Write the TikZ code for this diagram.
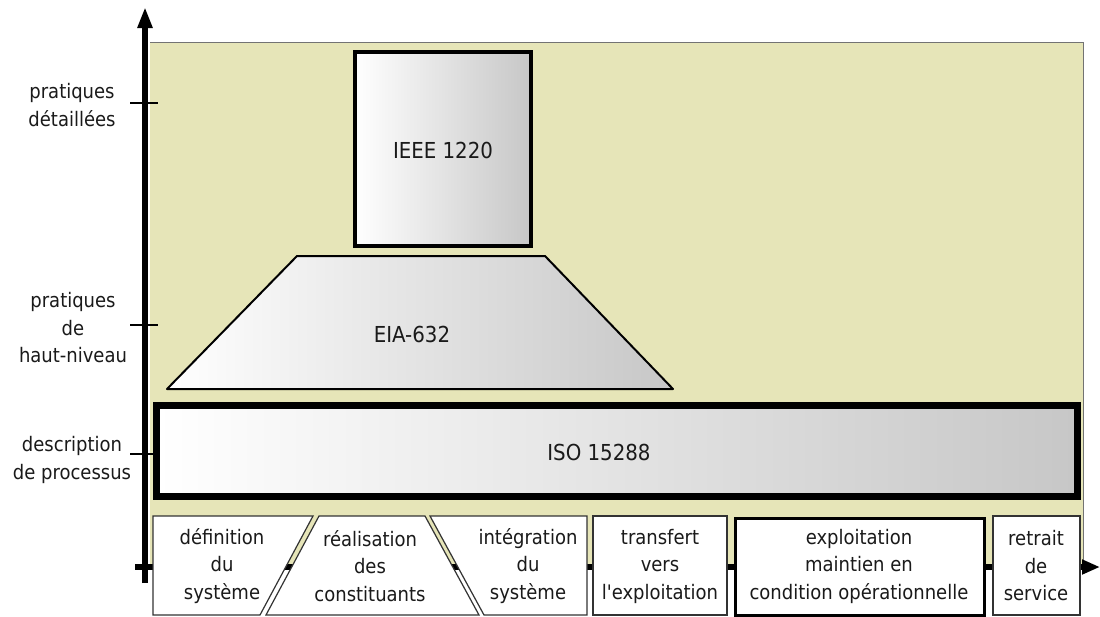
\documentclass[tikz,border=0pt]{standalone}
\usepackage{fontspec}
\setmainfont{DejaVu Sans Condensed}[Ligatures=TeXOff]
\usetikzlibrary{arrows.meta}
\definecolor{beige}{HTML}{E6E5B8}
\definecolor{txt}{HTML}{1A1A1A}
\begin{document}
\begin{tikzpicture}[x=1pt,y=-1pt,
  lbl/.style={font=\fontsize{20}{27.5}\selectfont, align=center, text=txt, inner sep=0pt},
  std/.style={font=\fontsize{22}{24}\selectfont, text=txt, inner sep=0pt},
  phase/.style={fill=white, draw=black!80, line width=1.2pt},
  axisline/.style={line width=6pt, black},
  tickline/.style={line width=1.5pt, black},
  stdshade/.style={left color=white, right color=black!22, draw=black}]
\useasboundingbox (0,0) rectangle (1100,616);
% background
\fill[beige] (150,42) rectangle (1083,567);
\draw[black!55, line width=0.8pt] (150,42) -- (1083,42) -- (1083,567);
% axes
\coordinate (vbot) at (145,583);
\coordinate (vtop) at (145,7);
\coordinate (hleft) at (135,567);
\coordinate (hright) at (1100,567);
\draw[axisline, -{Triangle[length=21pt,width=14pt]}] (vbot) -- (vtop);
\draw[axisline, -{Triangle[length=18pt,width=14pt]}] (hleft) -- (hright);
% ticks
\foreach \y/\n in {103/t1, 325/t2, 454/t3}{
  \coordinate (\n a) at (130,\y);
  \coordinate (\n b) at (158,\y);
  \draw[tickline] (\n a) -- (\n b);
}
% axis labels
\node[lbl] (l1) at (72,105) {pratiques\\détaillées};
\node[lbl] (l2) at (73,328) {pratiques\\de\\haut-niveau};
\node[lbl] (l3) at (72,460) {description\\de processus};
% standards
\shadedraw[stdshade, line width=3.5pt] (355,52) rectangle (531,246);
\node[std] (ieee) at (443,150) {IEEE 1220};
\shadedraw[stdshade, line width=2pt, line join=round] (297,256) -- (545,256) -- (673,389) -- (167,389) -- cycle;
\node[std] (eia) at (412,334) {EIA-632};
\shadedraw[stdshade, line width=7pt] (156.5,405.5) rectangle (1077.5,496.5);
\node[std] (iso) at (599,452) {ISO 15288};
% phases
\filldraw[phase] (153,516) -- (313,516) -- (260,615) -- (153,615) -- cycle;
\node[lbl] (p1) at (222,566) {définition\\du\\système};
\filldraw[phase] (319,516) -- (425,516) -- (479,615) -- (266,615) -- cycle;
\node[lbl] (p2) at (370,566) {réalisation\\des\\constituants};
\filldraw[phase] (430,516) -- (587,516) -- (587,615) -- (484,615) -- cycle;
\node[lbl] (p3) at (528,566) {intégration\\du\\système};
\filldraw[phase] (593,516) rectangle (727,615);
\node[lbl] (p4) at (660,566) {transfert\\vers\\l'exploitation};
\filldraw[phase, draw=black, line width=3pt] (735,518) rectangle (984,615);
\node[lbl] (p5) at (859,566) {exploitation\\maintien en\\condition opérationnelle};
\filldraw[phase] (993,516) rectangle (1080,615);
\node[lbl] (p6) at (1036,566) {retrait\\de\\service};
\end{tikzpicture}
\end{document}
